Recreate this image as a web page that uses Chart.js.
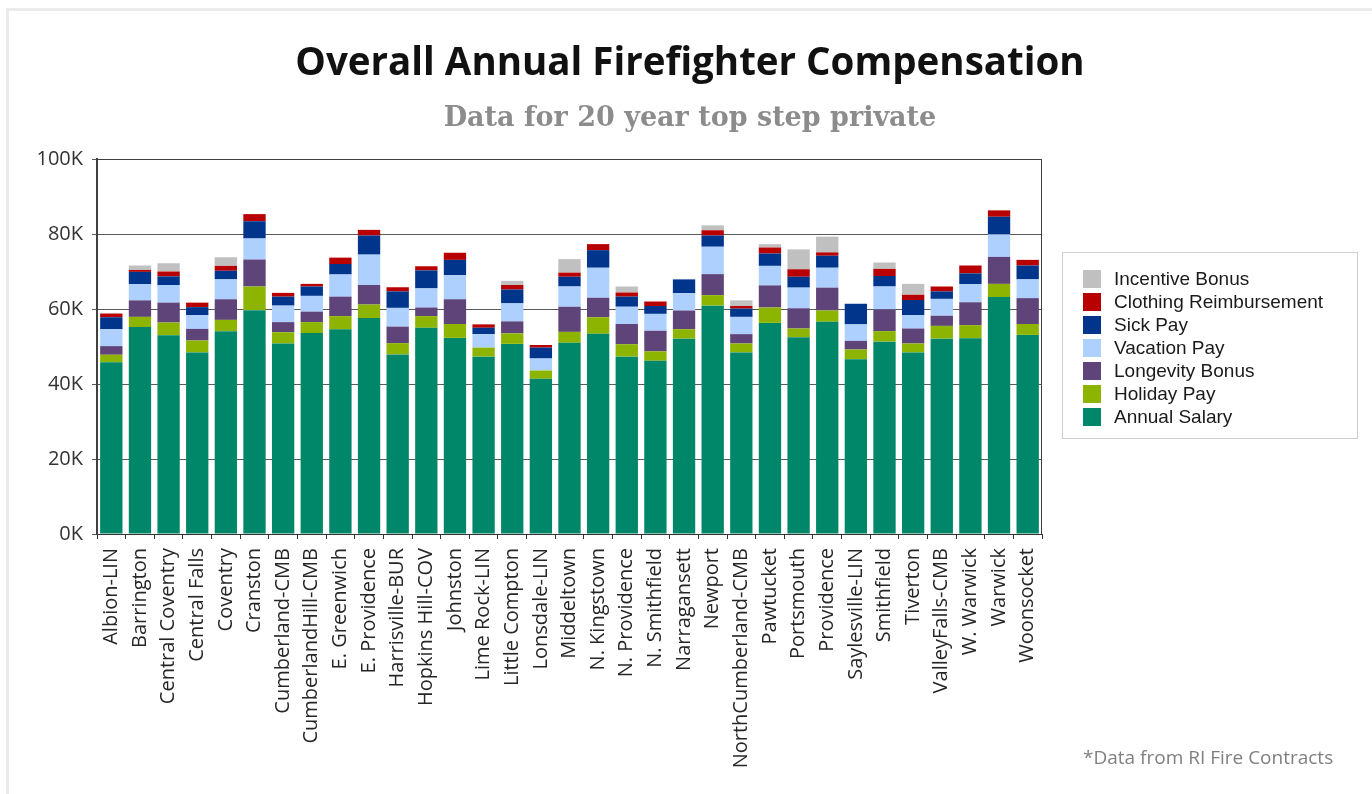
<!DOCTYPE html>
<html>
<head>
<meta charset="utf-8">
<title>Overall Annual Firefighter Compensation</title>
<script src="https://cdn.jsdelivr.net/npm/chart.js@4.4.1/dist/chart.umd.min.js"></script>
<style>
  html, body { margin: 0; padding: 0; background: #fff; }
  #wrap { position: relative; width: 1372px; height: 794px; overflow: hidden; }
  #frame { position: absolute; left: 6px; top: 8px; width: 1400px; height: 800px;
           border-left: 3px solid #ebebeb; border-top: 3px solid #ebebeb; }
  #myChart { position: absolute; left: 0; top: 0; }
  .heading { position: absolute; left: 290px; width: 800px; text-align: center; white-space: nowrap; }
  #title { top: 41px; font: bold 38.5px/38px "Open Sans", sans-serif; color: #111; }
  #subtitle { top: 103px; font: bold 27px/27px "DejaVu Serif", serif; color: #8c8c8c; }
  #legend { position: absolute; left: 1062px; top: 252px; width: 294px; height: 185px;
            border: 1px solid #cfcfcf; }
  #legend ul { list-style: none; margin: 0; padding: 0; position: absolute; left: 20px; top: 14px; }
  #legend li { display: flex; align-items: center; height: 23px;
               font: 19px "Liberation Sans", Arial, sans-serif; color: #1a1a1a; white-space: nowrap; }
  #legend .swatch { width: 18px; height: 18px; margin-right: 13px; }
  #note { position: absolute; left: 1083px; top: 744px; font: 19px/26px "Open Sans", sans-serif; color: #808080; }
</style>
</head>
<body>
<div id="wrap">
  <div id="frame"></div>
  <canvas id="myChart" width="1372" height="794"></canvas>
  <div id="title" class="heading">Overall Annual Firefighter Compensation</div>
  <div id="subtitle" class="heading">Data for 20 year top step private</div>
  <div id="legend"><ul></ul></div>
  <div id="note">*Data from RI Fire Contracts</div>
</div>
<script>
// values are in thousands of dollars
const towns = ['Albion-LIN', 'Barrington', 'Central Coventry', 'Central Falls', 'Coventry', 'Cranston',
    'Cumberland-CMB', 'CumberlandHill-CMB', 'E. Greenwich', 'E. Providence', 'Harrisville-BUR',
    'Hopkins Hill-COV', 'Johnston', 'Lime Rock-LIN', 'Little Compton', 'Lonsdale-LIN', 'Middeltown',
    'N. Kingstown', 'N. Providence', 'N. Smithfield', 'Narragansett', 'Newport', 'NorthCumberland-CMB',
    'Pawtucket', 'Portsmouth', 'Providence', 'Saylesville-LIN', 'Smithfield', 'Tiverton',
    'ValleyFalls-CMB', 'W. Warwick', 'Warwick', 'Woonsocket'];

const annualSalary = [45.8, 55.2, 53.0, 48.4, 54.1, 59.7, 50.8, 53.6, 54.6, 57.6, 47.9, 55.0, 52.3, 47.3, 50.7, 41.4, 51.0,
    53.4, 47.3, 46.2, 52.1, 60.9, 48.4, 56.3, 52.5, 56.6, 46.6, 51.3, 48.4, 52.1, 52.2, 63.2, 53.1];
const holidayPay = [2.0, 2.7, 3.4, 3.2, 3.0, 6.3, 3.0, 2.9, 3.5, 3.6, 3.0, 3.1, 3.7, 2.4, 2.8, 2.2, 2.9,
    4.4, 3.3, 2.5, 2.5, 2.8, 2.4, 4.1, 2.3, 3.0, 2.6, 2.8, 2.4, 3.4, 3.5, 3.5, 2.9];
const longevityBonus = [2.3, 4.4, 5.3, 3.1, 5.5, 7.2, 2.7, 2.8, 5.2, 5.2, 4.4, 2.3, 6.6, 0, 3.2, 0, 6.7,
    5.2, 5.4, 5.5, 5.0, 5.6, 2.5, 5.9, 5.4, 6.1, 2.3, 5.8, 4.0, 2.7, 6.1, 7.2, 6.9];
const vacationPay = [4.5, 4.3, 4.7, 3.7, 5.3, 5.6, 4.4, 4.2, 5.9, 8.1, 5.0, 5.1, 6.4, 3.6, 4.8, 3.2, 5.4,
    8.0, 4.6, 4.5, 4.6, 7.3, 4.6, 5.2, 5.5, 5.3, 4.4, 6.1, 3.6, 4.5, 4.8, 6.0, 5.0];
const sickPay = [3.2, 3.3, 2.3, 2.1, 2.3, 4.6, 2.4, 2.5, 2.8, 5.1, 4.4, 4.8, 4.1, 1.7, 3.7, 2.9, 2.6,
    4.7, 2.7, 2.1, 3.7, 3.0, 2.2, 3.3, 2.9, 3.2, 5.5, 2.8, 4.0, 2.0, 2.9, 4.7, 3.7];
const clothingReimbursement = [1.0, 0.5, 1.3, 1.2, 1.3, 1.9, 1.0, 0.7, 1.7, 1.5, 1.1, 1.1, 1.9, 0.9, 1.2, 0.7, 1.1,
    1.6, 1.1, 1.2, 0, 1.4, 0.7, 1.6, 2.0, 0.9, 0, 1.9, 1.4, 1.3, 2.1, 1.7, 1.5];
const incentiveBonus = [0, 1.2, 2.2, 0, 2.3, 0, 0, 0, 0, 0, 0, 0, 0, 0, 1.1, 0, 3.6,
    0, 1.6, 0, 0, 1.3, 1.5, 0.9, 5.3, 4.2, 0, 1.7, 2.9, 0, 0, 0, 0];

const yTicks = [0, 20, 40, 60, 80, 100];

// stacked bottom to top
const series = [
    { label: 'Annual Salary', data: annualSalary, color: '#00876A' },
    { label: 'Holiday Pay', data: holidayPay, color: '#8CB400' },
    { label: 'Longevity Bonus', data: longevityBonus, color: '#5F4479' },
    { label: 'Vacation Pay', data: vacationPay, color: '#ADD0FF' },
    { label: 'Sick Pay', data: sickPay, color: '#00358C' },
    { label: 'Clothing Reimbursement', data: clothingReimbursement, color: '#B80000' },
    { label: 'Incentive Bonus', data: incentiveBonus, color: '#C0C0C0' }
];

// outline on the top and right of the plot area
const plotFrame = {
    id: 'plotFrame',
    afterDatasetsDraw(chart) {
        const { ctx, chartArea } = chart;
        ctx.save();
        ctx.strokeStyle = '#404040';
        ctx.lineWidth = 1;
        ctx.beginPath();
        ctx.moveTo(chartArea.left, chartArea.top + 0.5);
        ctx.lineTo(chartArea.right - 0.5, chartArea.top + 0.5);
        ctx.lineTo(chartArea.right - 0.5, chartArea.bottom);
        ctx.stroke();
        ctx.restore();
    }
};

function buildLegend() {
    const list = document.querySelector('#legend ul');
    for (const s of series.slice().reverse()) {
        const li = document.createElement('li');
        const box = document.createElement('span');
        box.className = 'swatch';
        box.style.background = s.color;
        li.appendChild(box);
        li.appendChild(document.createTextNode(s.label));
        list.appendChild(li);
    }
}

function createChart() {
    const ctx = document.getElementById('myChart').getContext('2d');

    new Chart(ctx, {
        type: 'bar',
        data: {
            labels: towns,
            datasets: series.map(s => ({
                label: s.label,
                data: s.data,
                backgroundColor: s.color,
                borderWidth: 0,
                barPercentage: 0.78,
                categoryPercentage: 1.0
            }))
        },
        options: {
            responsive: false,
            animation: false,
            devicePixelRatio: 1,
            layout: { padding: { top: 159, right: 330, bottom: 0, left: 0 } },
            plugins: {
                legend: { display: false },
                tooltip: { enabled: false }
            },
            scales: {
                x: {
                    stacked: true,
                    border: { display: true, color: '#333', width: 1 },
                    grid: { drawOnChartArea: false, drawTicks: true, tickLength: 5, color: '#333' },
                    ticks: {
                        autoSkip: false,
                        minRotation: 90,
                        maxRotation: 90,
                        padding: 9,
                        color: '#262626',
                        font: { family: '"Open Sans", sans-serif', size: 20 }
                    },
                    afterFit(scale) { scale.height = 260; }
                },
                y: {
                    stacked: true,
                    min: 0,
                    max: 100,
                    border: { display: true, color: '#404040', width: 2 },
                    grid: { color: '#5a5a5a', lineWidth: 1, tickLength: 5 },
                    ticks: {
                        stepSize: 20,
                        padding: 9,
                        color: '#333',
                        font: { family: '"Open Sans", sans-serif', size: 20 },
                        callback: value => yTicks.includes(value) ? value + 'K' : ''
                    },
                    afterFit(scale) { scale.width = 97; }
                }
            }
        },
        plugins: [plotFrame]
    });
}

document.addEventListener('DOMContentLoaded', () => {
    buildLegend();
    createChart();
});
</script>
</body>
</html>
